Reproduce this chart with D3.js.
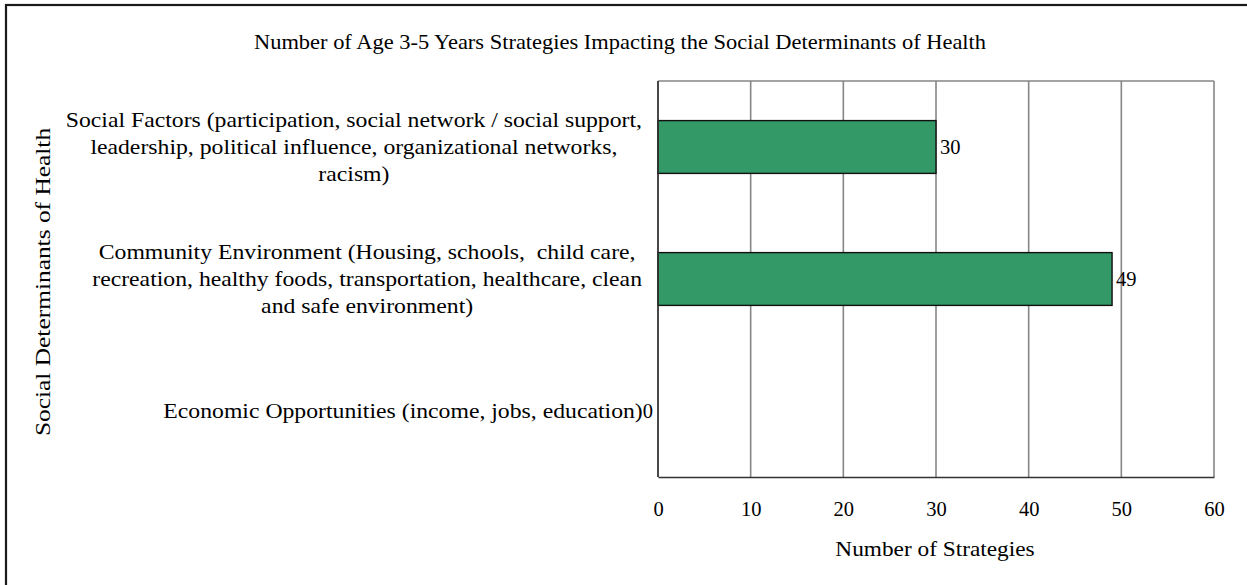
<!DOCTYPE html>
<html>
<head>
<meta charset="utf-8">
<script src="https://cdn.jsdelivr.net/npm/d3@7"></script>
<style>
  html, body { margin: 0; padding: 0; background: #fff; }
  svg text { font-family: "Liberation Serif", "Times New Roman", serif; fill: #000; white-space: pre; }
</style>
</head>
<body>
<svg id="chart" width="1247" height="585"></svg>
<script>
const categories = [
  "Social Factors (participation, social network / social support,|leadership, political influence, organizational networks,|racism)",
  "Community Environment (Housing, schools,  child care,|recreation, healthy foods, transportation, healthcare, clean|and safe environment)",
  "Economic Opportunities (income, jobs, education)"
];
const values = [30, 49, 0];
const xTicks = [0, 10, 20, 30, 40, 50, 60];
const title = "Number of Age 3-5 Years Strategies Impacting the Social Determinants of Health";
const xTitle = "Number of Strategies";
const yTitle = "Social Determinants of Health";

const svg = d3.select("#chart");
const m = {left: 658, right: 1214, top: 81, bottom: 477};
const FS = 21;

// text drawn with horizontal stretch to approximate Palatino's wider glyphs
function stretchedText(parent, tx, ty, rot, f, str, anchor) {
  const g = parent.append("g")
    .attr("transform", `translate(${tx},${ty}) rotate(${rot}) scale(${f},1)`);
  const t = g.append("text").attr("x", 0).attr("y", 0).attr("dy", "0.35em")
    .attr("text-anchor", anchor || "middle").attr("font-size", FS).text(str);
  return {g, t, w: t.node().getComputedTextLength() * f};
}

// outer border (right/bottom cut off as in reference)
svg.append("rect").attr("x", 6).attr("y", 5).attr("width", 1300).attr("height", 700)
  .attr("fill", "none").attr("stroke", "#1a1a1a").attr("stroke-width", 2.2);

const x = d3.scaleLinear().domain([0, 60]).range([m.left, m.right]);
const y = d3.scaleBand().domain(d3.range(categories.length)).range([m.top, m.bottom])
  .paddingInner(0.6).paddingOuter(0.3);

// gridlines
svg.append("g").selectAll("line").data(xTicks).join("line")
  .attr("x1", d => x(d)).attr("x2", d => x(d))
  .attr("y1", m.top).attr("y2", m.bottom)
  .attr("stroke", "#868686").attr("stroke-width", 1.6);
svg.append("line").attr("x1", m.left).attr("x2", m.right).attr("y1", m.top).attr("y2", m.top)
  .attr("stroke", "#868686").attr("stroke-width", 1.6);

// bars
svg.append("g").selectAll("rect").data(values).join("rect")
  .attr("x", x(0)).attr("y", (d, i) => y(i))
  .attr("width", d => x(d) - x(0)).attr("height", y.bandwidth())
  .attr("fill", d => d > 0 ? "#339966" : "none")
  .attr("stroke", d => d > 0 ? "#111" : "none").attr("stroke-width", 1.4);

// axis lines
svg.append("line").attr("x1", m.left).attr("x2", m.left).attr("y1", m.top).attr("y2", m.bottom)
  .attr("stroke", "#333").attr("stroke-width", 1.6);
const xAxis = d3.axisBottom(x).tickValues(xTicks).tickSize(0).tickPadding(24).tickFormat(d3.format("d"));
const gx = svg.append("g").attr("transform", `translate(0,${m.bottom})`).call(xAxis);
gx.select(".domain").attr("stroke", "#333").attr("stroke-width", 1.6);
gx.selectAll("text").attr("font-size", 20.5).attr("font-family", "Liberation Serif");

// value labels
const vlabels = svg.append("g").selectAll("text").data(values).join("text")
  .attr("x", d => d > 0 ? x(d) + 4 : x(d) - 5)
  .attr("text-anchor", d => d > 0 ? "start" : "end")
  .attr("y", (d, i) => y(i) + y.bandwidth() / 2)
  .attr("dy", "0.35em").attr("font-size", 20.5)
  .text(d => d);
const zeroW = {};
vlabels.each(function(d, i) { zeroW[i] = this.getComputedTextLength(); });

// category labels: block right-aligned, lines centered within block
const labelRight = 642;
const lineH = 27;
const LF = 1.13;
categories.forEach((c, i) => {
  const lines = c.split("|");
  const cy = y(i) + y.bandwidth() / 2;
  const items = lines.map((ln, j) =>
    stretchedText(svg, 0, cy + (j - (lines.length - 1) / 2) * lineH, 0, LF, ln));
  const maxW = d3.max(items, d => d.w);
  const right = values[i] === 0 ? x(0) - 5 - zeroW[i] : labelRight;
  items.forEach((it, j) => it.g.attr("transform",
    `translate(${right - maxW / 2},${cy + (j - (lines.length - 1) / 2) * lineH}) scale(${LF},1)`));
});

// titles
stretchedText(svg, 620, 42, 0, 1.07, title);
stretchedText(svg, 935, 549, 0, 1.11, xTitle);
stretchedText(svg, 43, 282, -90, 1.21, yTitle);
</script>
</body>
</html>
